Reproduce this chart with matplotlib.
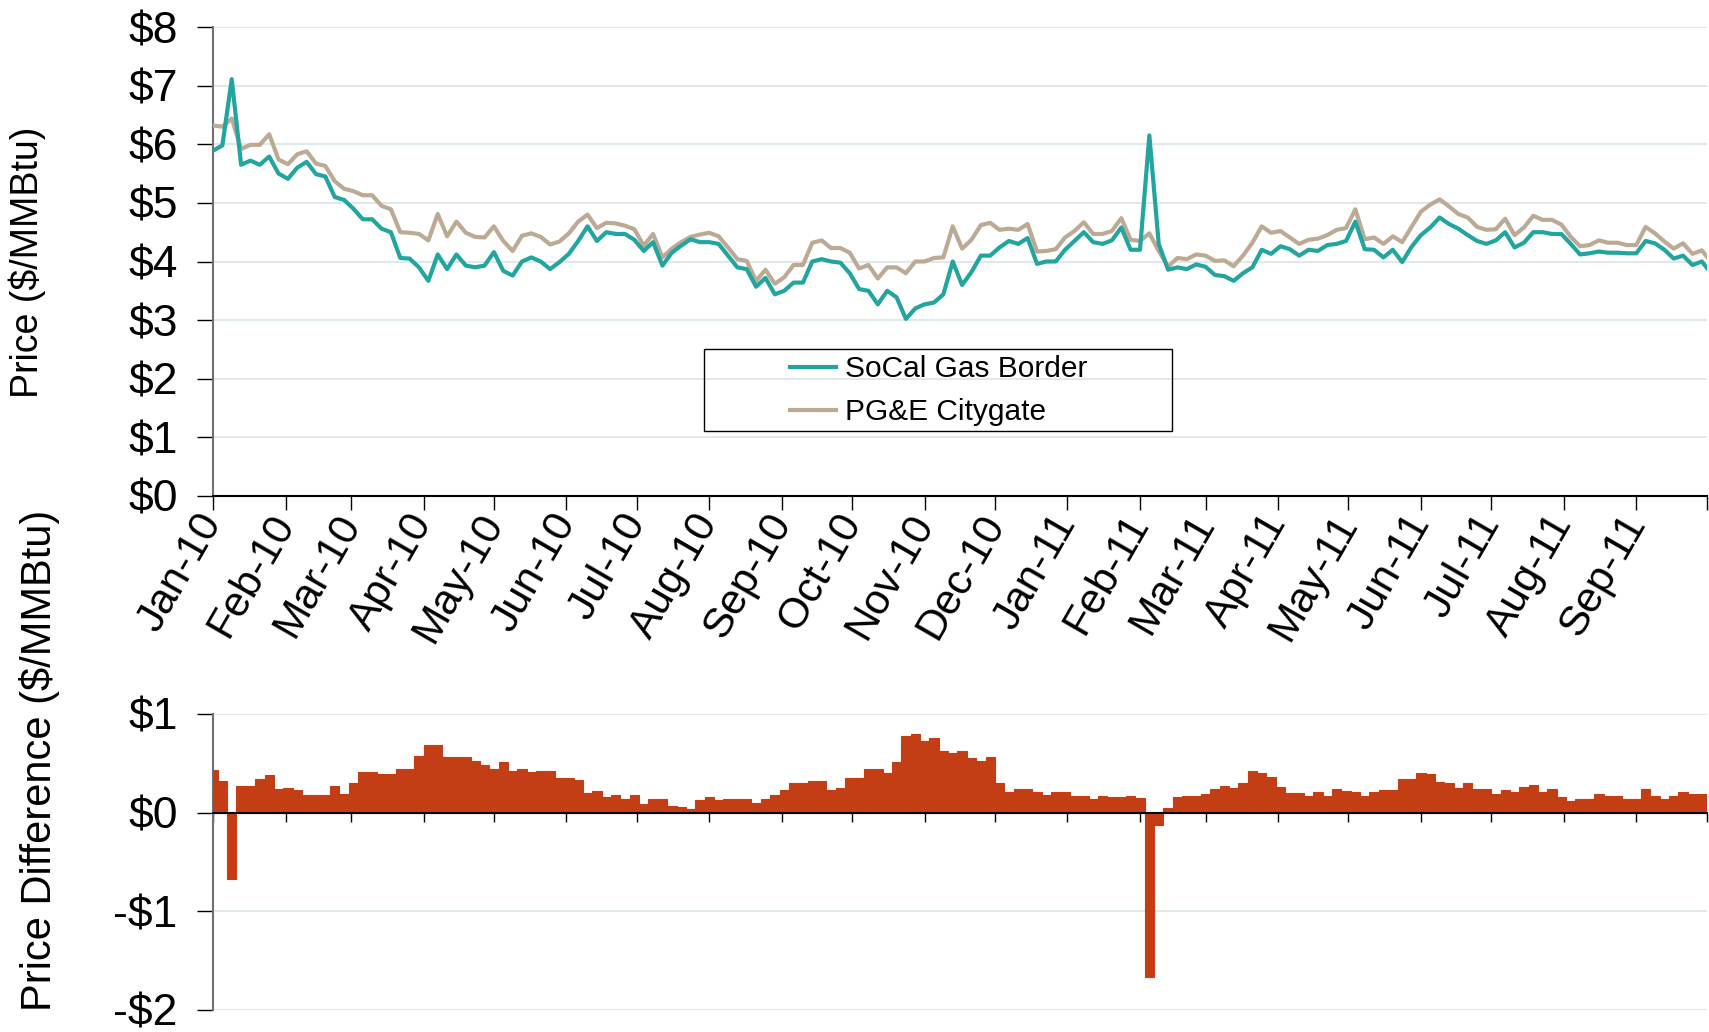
import matplotlib
matplotlib.use("Agg")
import matplotlib.pyplot as plt
from matplotlib.patches import Rectangle
from matplotlib.transforms import ScaledTranslation
import numpy as np
import pandas as pd

plt.rcParams['font.family'] = ['Liberation Sans', 'DejaVu Sans']

# daily gas prices, every 4 days from 1 Jan 2010
dates = pd.date_range('2010-01-01', periods=161, freq='4D')

socal = [
    5.89, 5.98, 7.11, 5.65, 5.72, 5.65, 5.79, 5.50, 5.41, 5.60,
    5.70, 5.49, 5.45, 5.10, 5.05, 4.90, 4.72, 4.72, 4.56, 4.50,
    4.06, 4.05, 3.90, 3.67, 4.12, 3.87, 4.12, 3.93, 3.90, 3.93,
    4.16, 3.84, 3.76, 4.00, 4.07, 4.00, 3.87, 3.99, 4.13, 4.35,
    4.60, 4.35, 4.50, 4.47, 4.47, 4.37, 4.18, 4.33, 3.93, 4.15,
    4.27, 4.38, 4.33, 4.33, 4.30, 4.10, 3.90, 3.87, 3.57, 3.72,
    3.44, 3.50, 3.64, 3.64, 4.00, 4.04, 4.00, 3.98, 3.80, 3.53,
    3.50, 3.27, 3.50, 3.39, 3.02, 3.20, 3.27, 3.30, 3.44, 4.00,
    3.60, 3.82, 4.10, 4.10, 4.24, 4.35, 4.30, 4.40, 3.96, 4.00,
    4.00, 4.20, 4.35, 4.50, 4.33, 4.30, 4.36, 4.58, 4.20, 4.20,
    6.15, 4.30, 3.86, 3.90, 3.87, 3.95, 3.91, 3.77, 3.75, 3.67,
    3.80, 3.90, 4.20, 4.13, 4.26, 4.21, 4.10, 4.20, 4.18, 4.28,
    4.30, 4.35, 4.68, 4.21, 4.20, 4.07, 4.20, 3.99, 4.25, 4.45,
    4.58, 4.75, 4.64, 4.56, 4.45, 4.35, 4.30, 4.36, 4.50, 4.24,
    4.32, 4.50, 4.50, 4.47, 4.47, 4.30, 4.12, 4.14, 4.17, 4.15,
    4.15, 4.14, 4.14, 4.35, 4.31, 4.20, 4.05, 4.10, 3.94, 4.00,
    3.80,
]

pge = [
    6.32, 6.30, 6.44, 5.92, 5.99, 5.99, 6.17, 5.74, 5.66, 5.83,
    5.88, 5.67, 5.63, 5.37, 5.24, 5.20, 5.13, 5.13, 4.95, 4.89,
    4.50, 4.49, 4.47, 4.36, 4.81, 4.43, 4.68, 4.49, 4.42, 4.41,
    4.60, 4.35, 4.18, 4.44, 4.48, 4.42, 4.29, 4.34, 4.48, 4.68,
    4.80, 4.57, 4.66, 4.65, 4.61, 4.55, 4.27, 4.47, 4.07, 4.22,
    4.33, 4.42, 4.46, 4.49, 4.43, 4.24, 4.04, 4.01, 3.67, 3.86,
    3.62, 3.73, 3.94, 3.94, 4.32, 4.36, 4.23, 4.23, 4.15, 3.88,
    3.94, 3.71, 3.90, 3.90, 3.80, 4.00, 4.00, 4.06, 4.07, 4.60,
    4.22, 4.37, 4.62, 4.66, 4.54, 4.56, 4.54, 4.64, 4.17, 4.18,
    4.21, 4.41, 4.52, 4.67, 4.47, 4.47, 4.52, 4.74, 4.37, 4.35,
    4.48, 4.18, 3.91, 4.06, 4.04, 4.12, 4.10, 4.01, 4.02, 3.92,
    4.10, 4.32, 4.60, 4.49, 4.52, 4.41, 4.30, 4.37, 4.39, 4.45,
    4.54, 4.57, 4.89, 4.38, 4.41, 4.30, 4.43, 4.33, 4.59, 4.85,
    4.97, 5.06, 4.94, 4.81, 4.75, 4.59, 4.54, 4.55, 4.73, 4.45,
    4.58, 4.78, 4.71, 4.71, 4.63, 4.42, 4.26, 4.28, 4.36, 4.32,
    4.32, 4.28, 4.28, 4.59, 4.48, 4.34, 4.22, 4.31, 4.13, 4.19,
    3.99,
]

spread = np.array(pge) - np.array(socal)

price_ticks = [0, 1, 2, 3, 4, 5, 6, 7, 8]
price_labels = ['$0', '$1', '$2', '$3', '$4', '$5', '$6', '$7', '$8']
diff_ticks = [-2, -1, 0, 1]
diff_labels = ['-$2', '-$1', '$0', '$1']

TEAL = '#22A59E'
TAN = '#BDAA95'
RUST = '#C43E15'
GRID = '#D9E4E8'
TICK_FS = 32

W, H = 1709, 1032
fig = plt.figure(figsize=(W / 100, H / 100), dpi=100)

ax1 = fig.add_axes([213 / W, 1 - 496 / H, 1493.5 / W, 469 / H])
ax2 = fig.add_axes([213 / W, 1 - 1010 / H, 1493.5 / W, 296 / H])

month_ticks = pd.date_range('2010-01-01', '2011-10-01', freq='MS')
month_labels = [d.strftime('%b-%y') for d in month_ticks[:-1]] + ['']
x0, x1 = pd.Timestamp('2010-01-01'), pd.Timestamp('2011-10-01')

# --- top panel: prices
ax1.plot(dates, pge, color=TAN, lw=3, label='PG&E Citygate', zorder=3)
ax1.plot(dates, socal, color=TEAL, lw=3, label='SoCal Gas Border', zorder=4)
ax1.set_xlim(x0, x1)
ax1.set_ylim(0, 8)
ax1.set_yticks(price_ticks)
ax1.set_yticklabels(price_labels, fontsize=TICK_FS)
for v in price_ticks[1:]:
    ax1.axhline(v, color=GRID, lw=1.2, zorder=1)
ax1.set_xticks(month_ticks)
ax1.set_xticklabels(month_labels, fontsize=30.5, rotation=60,
                    ha='right', va='center', rotation_mode='anchor')
shift = ScaledTranslation(-0.05, -0.10, fig.dpi_scale_trans)
for lab in ax1.get_xticklabels():
    lab.set_transform(lab.get_transform() + shift)
ax1.tick_params(axis='x', direction='out', length=10, width=1, pad=5)
ax1.tick_params(axis='y', direction='out', length=11.5, width=1, pad=14)
for s in ['top', 'right']:
    ax1.spines[s].set_visible(False)
ax1.spines['left'].set_color('#707070')
ax1.spines['left'].set_linewidth(1.5)
ax1.spines['bottom'].set_color('black')
ax1.spines['bottom'].set_linewidth(1.5)

h_teal, = ax1.plot([], [], color=TEAL, lw=3)
h_tan, = ax1.plot([], [], color=TAN, lw=3)
ax1.legend([h_teal, h_tan], ['SoCal Gas Border', 'PG&E Citygate'],
           loc='center', bbox_to_anchor=(0.486, 0.224), frameon=False,
           fontsize=21.5, handlelength=1.55, handletextpad=0.3,
           labelspacing=0.5, borderpad=0)
ax1.add_patch(Rectangle((0.329, 0.139), 0.313, 0.174, transform=ax1.transAxes,
                        fill=False, edgecolor='black', lw=1, zorder=5))

# --- bottom panel: price difference
ax2.bar(dates, spread, width=4, color=RUST, edgecolor=RUST, linewidth=0.8, zorder=3)
ax2.set_xlim(x0, x1)
ax2.set_ylim(-2, 1)
ax2.set_yticks(diff_ticks)
ax2.set_yticklabels(diff_labels, fontsize=TICK_FS)
for v in [1, -1, -2]:
    ax2.axhline(v, color=GRID, lw=1.2, zorder=1)
ax2.set_xticks(month_ticks)
ax2.set_xticklabels([])
ax2.tick_params(axis='x', direction='out', length=6.5, width=1)
ax2.tick_params(axis='y', direction='out', length=11.5, width=1, pad=14)
for s in ['top', 'right']:
    ax2.spines[s].set_visible(False)
ax2.spines['bottom'].set_position(('data', 0))
ax2.spines['bottom'].set_color('black')
ax2.spines['bottom'].set_linewidth(1.5)
ax2.spines['bottom'].set_zorder(4)
ax2.spines['left'].set_color('#707070')
ax2.spines['left'].set_linewidth(1.5)

fig.text(27 / W, 1 - 262 / H, 'Price ($/MMBtu)', rotation=90,
         ha='center', va='center', fontsize=27)
fig.text(40 / W, 1 - 760 / H, 'Price Difference ($/MMBtu)', rotation=90,
         ha='center', va='center', fontsize=30)

fig.savefig('out.png', dpi=100)
